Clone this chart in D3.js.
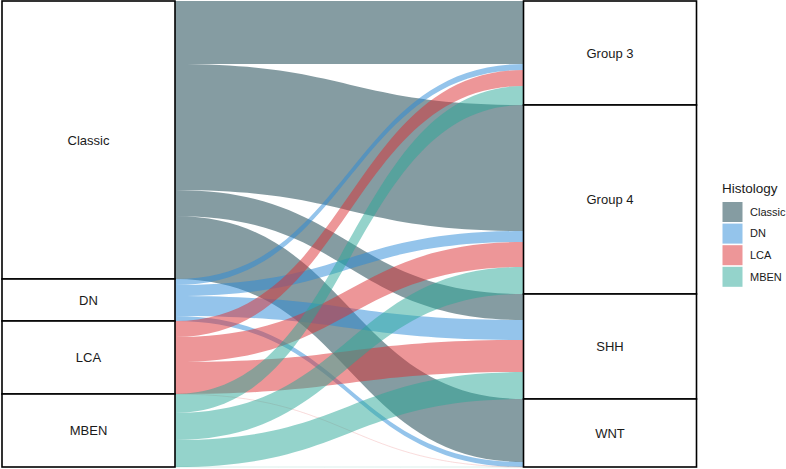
<!DOCTYPE html>
<meta charset="utf-8">
<style>
body { margin: 0; background: #fff; font-family: "Liberation Sans", Arial, sans-serif; }
text { fill: #1a1a1a; }
</style>
<body>
<script src="https://cdn.jsdelivr.net/npm/d3@7"></script>
<script>

var width = 786, height = 469;

var histology = ["Classic", "DN", "LCA", "MBEN"];
var subgroups = ["Group 3", "Group 4", "SHH", "WNT"];
var colors = ["#0b3a45", "#2a8ad8", "#dc2e31", "#2aa897"];
// counts[histology][subgroup]
var classicCounts = [63, 126, 26, 63];
var dnCounts = [6, 11, 20, 5];
var lcaCounts = [16, 25, 32, 0];
var mbenCounts = [19, 27, 27, 0];
var counts = [classicCounts, dnCounts, lcaCounts, mbenCounts];

var total = d3.sum(counts, function(r){ return d3.sum(r); });

var y = d3.scaleLinear().domain([0, total]).range([1, 467]);
var xs = d3.scalePoint().domain(["Histology", "Subgroup"]).range([88.5, 610]);
var halfW = 86.5;
var color = d3.scaleOrdinal().domain(histology).range(colors);

var svg = d3.select("body").append("svg")
    .attr("width", width)
    .attr("height", height);

// stratum totals
var leftTot = counts.map(function(r){ return d3.sum(r); });
var rightTot = subgroups.map(function(s, j){ return d3.sum(counts, function(r){ return r[j]; }); });
var leftStart = d3.cumsum([0].concat(leftTot));
var rightStart = d3.cumsum([0].concat(rightTot));

// flows
var flows = [];
var rightOff = rightTot.map(function(){ return 0; });
var rightAcc = subgroups.map(function(s, j){ return 0; });
histology.forEach(function(h, i){
  var lo = leftStart[i];
  subgroups.forEach(function(s, j){
    var v = counts[i][j];
    // right offset: sum of earlier histologies in this subgroup
    var ro = rightStart[j];
    for (var k = 0; k < i; k++) ro += counts[k][j];
    flows.push({h: h, s: s, v: v, l0: lo, r0: ro});
    lo += v;
  });
});

var x0 = xs("Histology") + halfW, x1 = xs("Subgroup") - halfW, xm = (x0 + x1) / 2;
function flowPath(d){
  var a0 = y(d.l0), a1 = y(d.l0 + d.v), b0 = y(d.r0), b1 = y(d.r0 + d.v);
  return "M" + x0 + "," + a0 +
    "C" + xm + "," + a0 + " " + xm + "," + b0 + " " + x1 + "," + b0 +
    "L" + x1 + "," + b1 +
    "C" + xm + "," + b1 + " " + xm + "," + a1 + " " + x0 + "," + a1 + "Z";
}

svg.append("g").selectAll("path")
  .data(flows)
  .enter().append("path")
  .attr("d", flowPath)
  .attr("fill", function(d){ return color(d.h); })
  .attr("fill-opacity", 0.5)
  .attr("stroke", function(d){ return d.v === 0 ? color(d.h) : "none"; })
  .attr("stroke-opacity", 0.15)
  .attr("stroke-width", 0.6);

// strata
function strata(names, tots, starts, axis){
  var g = svg.append("g");
  names.forEach(function(n, i){
    var t = y(starts[i]), b = y(starts[i] + tots[i]);
    g.append("rect")
      .attr("x", xs(axis) - halfW).attr("y", t)
      .attr("width", halfW * 2).attr("height", b - t)
      .attr("fill", "#fff").attr("stroke", "#000").attr("stroke-width", 1.6);
    g.append("text")
      .attr("x", xs(axis)).attr("y", (t + b) / 2)
      .attr("text-anchor", "middle").attr("dy", "0.35em")
      .attr("font-size", 13)
      .text(n);
  });
}
strata(histology, leftTot, leftStart, "Histology");
strata(subgroups, rightTot, rightStart, "Subgroup");

// legend
var lg = svg.append("g").attr("transform", "translate(722,0)");
lg.append("text").attr("x", 0).attr("y", 193).attr("font-size", 13.5).text("Histology");
histology.forEach(function(h, i){
  lg.append("rect")
    .attr("x", 0.5).attr("y", 202 + i * 21.6)
    .attr("width", 20).attr("height", 20)
    .attr("fill", color(h)).attr("fill-opacity", 0.5);
  lg.append("text")
    .attr("x", 28).attr("y", 212 + i * 21.6).attr("dy", "0.35em")
    .attr("font-size", 11)
    .text(h);
});

</script>
</body>
